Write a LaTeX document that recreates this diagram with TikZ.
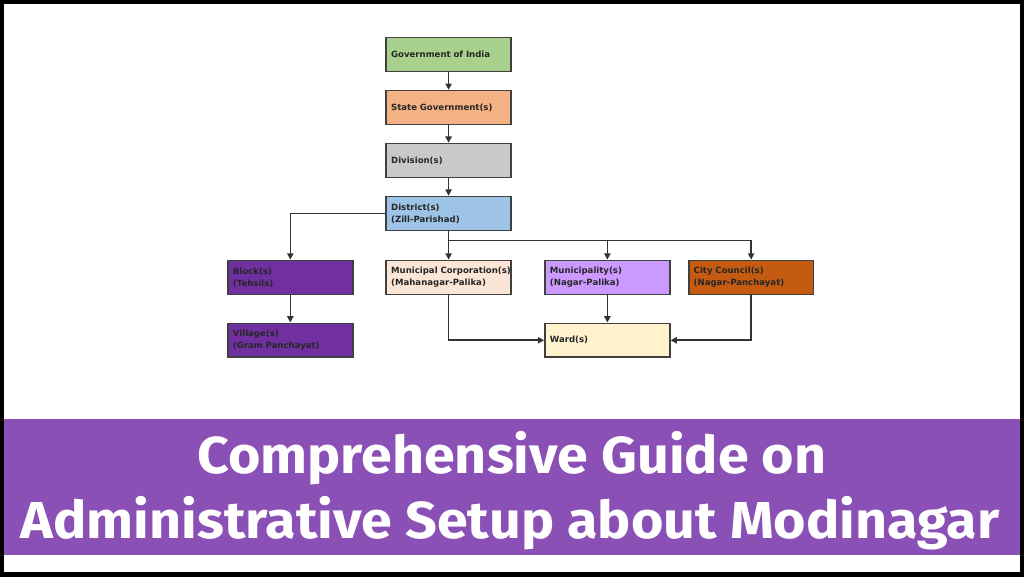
\documentclass[tikz,border=0pt]{standalone}
\usepackage{fontspec}
\setsansfont{DejaVu Sans}
\newfontfamily\titlefont[FakeStretch=1.07]{Fira Sans}
\usetikzlibrary{arrows.meta}
\definecolor{govgreen}{HTML}{A9D18E}
\definecolor{stateorange}{HTML}{F4B183}
\definecolor{divgrey}{HTML}{C9C9C9}
\definecolor{distblue}{HTML}{9DC3E6}
\definecolor{blockpurple}{HTML}{7030A0}
\definecolor{corppeach}{HTML}{FBE5D6}
\definecolor{munililac}{HTML}{CC99FF}
\definecolor{councilrust}{HTML}{C55A11}
\definecolor{wardcream}{HTML}{FFF2CC}
\definecolor{bandpurple}{HTML}{8A50B6}

\begin{document}
\begin{tikzpicture}[x=0.025cm,y=-0.025cm,
   box/.style={draw=black!75,line width=1.1pt,minimum width=3.125cm,minimum height=0.85cm,
     text width=2.875cm,inner xsep=0.125cm,inner ysep=0pt,align=left,
     font=\sffamily\bfseries\fontsize{6.1}{8.5}\selectfont,text=black!85},
   arr/.style={draw=black!80,line width=1.1pt,-{Triangle[length=4.5pt,width=4.5pt]}},
   title/.style={text=white,font=\titlefont\bfseries\fontsize{37}{40}\selectfont,anchor=base}]
   % page, border and title band
   \fill[white] (0,0) rectangle (1024,576);
   \fill[bandpurple] (3,419) rectangle (1021,555);
   \draw[line width=3.2pt] (1.5,1.5) rectangle (1022.5,574.5);
   % boxes
   \node[box,fill=govgreen]    (gov)   at (448.5,54)  {Government of India};
   \node[box,fill=stateorange] (state) at (448.5,107) {State Government(s)};
   \node[box,fill=divgrey]     (div)   at (448.5,160) {Division(s)};
   \node[box,fill=distblue]    (dist)  at (448.5,213) {District(s)\\(Zill-Parishad)};
   \node[box,fill=blockpurple] (blk)   at (290,277)   {Block(s)\\(Tehsils)};
   \node[box,fill=blockpurple] (vil)   at (290,340)   {Village(s)\\(Gram Panchayat)};
   \node[box,fill=corppeach]   (mc)    at (448.5,277) {\mbox{Municipal Corporation(s)}\\(Mahanagar-Palika)};
   \node[box,fill=munililac]   (muni)  at (607.5,277) {Municipality(s)\\(Nagar-Palika)};
   \node[box,fill=councilrust] (cc)    at (751.5,277) {City Council(s)\\(Nagar-Panchayat)};
   \node[box,fill=wardcream]   (ward)  at (607.5,340) {Ward(s)};
   \coordinate (jn) at (448.5,240);
   % connectors
   \draw[arr] (gov) -- (state);
   \draw[arr] (state) -- (div);
   \draw[arr] (div) -- (dist);
   \draw[arr] (dist.west) -| (blk.north);
   \draw[arr] (blk) -- (vil);
   \draw[arr] (dist) -- (mc);
   \draw[arr] (jn) -| (muni.north);
   \draw[arr] (jn) -| (cc.north);
   \draw[arr] (mc.south) |- (ward.west);
   \draw[arr] (muni) -- (ward);
   \draw[arr] (cc.south) |- (ward.east);
   % title
   \node[title] (line1) at (512,473) {Comprehensive Guide on};
   \node[title] (line2) at (510,539) {Administrative Setup about Modinagar};
\end{tikzpicture}
\end{document}
